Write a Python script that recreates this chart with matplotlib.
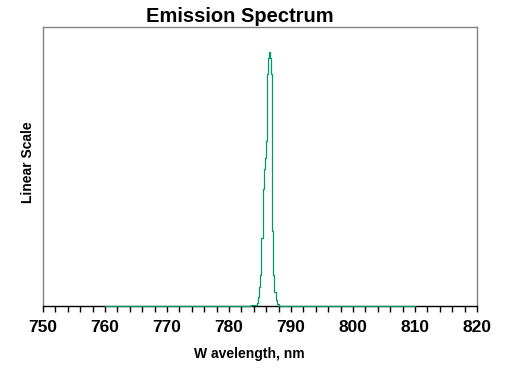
import matplotlib
matplotlib.use("Agg")
import matplotlib.pyplot as plt
from matplotlib.ticker import MultipleLocator, NullLocator

# spectrum (normalised intensity, step line)
wavelength = [760.0, 783.6, 784.08, 784.47, 784.63, 784.84, 785.0, 785.16,
              785.53, 785.7, 785.8, 785.96, 786.18, 786.34, 786.5, 786.6,
              786.77, 786.9, 787.0, 787.1, 787.3, 787.5, 787.75, 788.1, 810.0]
intensity = [0.0, 0.002, 0.004, 0.011, 0.032, 0.068, 0.11, 0.244,
             0.42, 0.49, 0.53, 0.59, 0.83, 0.89, 0.91, 0.89,
             0.83, 0.45, 0.27, 0.11, 0.05, 0.022, 0.007, 0.0, 0.0]

x_ticks = [750, 760, 770, 780, 790, 800, 810, 820]

plt.rcParams['font.family'] = ['Liberation Sans', 'DejaVu Sans']

fig = plt.figure(figsize=(5.24, 3.84), dpi=100)
ax = fig.add_axes([0.0821, 0.2031, 0.8282, 0.7266])

ax.plot(wavelength, intensity, drawstyle='steps-post', color='#00996b',
        lw=0.9, clip_on=False, zorder=5)

ax.set_xlim(750, 820)
ax.set_ylim(0, 1)
ax.set_xticks(x_ticks)
ax.xaxis.set_minor_locator(MultipleLocator(2))
ax.yaxis.set_major_locator(NullLocator())
ax.tick_params(axis='x', which='both', direction='out', length=4, width=1,
               color='black', labelsize=12.5, pad=6)
for lab in ax.get_xticklabels():
    lab.set_fontweight('bold')

for side in ('left', 'top', 'right'):
    ax.spines[side].set_color('#808080')
    ax.spines[side].set_linewidth(1)
ax.spines['bottom'].set_color('black')
ax.spines['bottom'].set_linewidth(1)

fig.text(240 / 524, 1 - 17 / 384, 'Emission Spectrum', ha='center', va='center',
         fontsize=14.5, fontweight='bold')
fig.text(249 / 524, 1 - 354 / 384, 'W avelength, nm', ha='center', va='center',
         fontsize=10, fontweight='bold')
fig.text(28 / 524, 1 - 162 / 384, 'Linear Scale', ha='center', va='center',
         rotation=90, fontsize=10, fontweight='bold')

fig.savefig('out.png', dpi=100)
